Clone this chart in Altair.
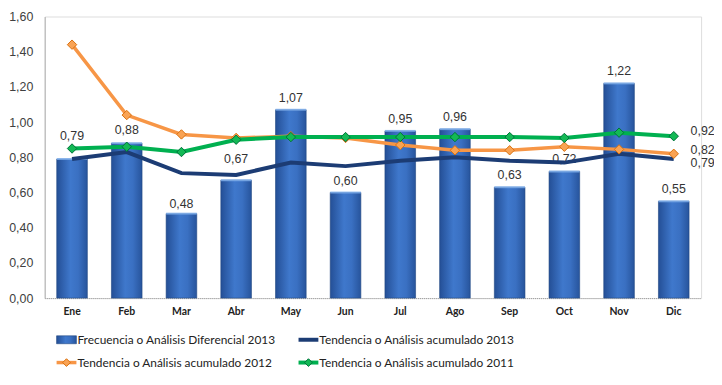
import altair as alt
import pandas as pd

months = ["Ene", "Feb", "Mar", "Abr", "May", "Jun", "Jul", "Ago", "Sep", "Oct", "Nov", "Dic"]
freq_2013 = [0.79, 0.88, 0.48, 0.67, 1.07, 0.60, 0.95, 0.96, 0.63, 0.72, 1.22, 0.55]
tend_2013 = [0.79, 0.83, 0.71, 0.70, 0.77, 0.75, 0.78, 0.80, 0.78, 0.77, 0.82, 0.79]
tend_2012 = [1.44, 1.04, 0.93, 0.91, 0.92, 0.91, 0.87, 0.84, 0.84, 0.86, 0.845, 0.82]
tend_2011 = [0.85, 0.86, 0.83, 0.90, 0.915, 0.915, 0.915, 0.915, 0.915, 0.91, 0.94, 0.92]
y_ticks = [0, 0.2, 0.4, 0.6, 0.8, 1.0, 1.2, 1.4, 1.6]

legend_names = [
    "Frecuencia o Análisis Diferencial 2013",
    "Tendencia o Análisis acumulado 2013",
    "Tendencia o Análisis acumulado 2012",
    "Tendencia o Análisis acumulado 2011",
]

W, H = 662, 284
FONT = "Liberation Sans"
NARROW = "Lato, sans-serif"

df = pd.DataFrame({"mes": months, "freq": freq_2013, "t13": tend_2013,
                   "t12": tend_2012, "t11": tend_2011})

yscale = alt.Scale(domain=[0, 1.6], nice=False, zero=True)
xscale = alt.Scale(paddingInner=0.44, paddingOuter=0.22)
xaxis = alt.Axis(title=None, labelAngle=0, ticks=False, labelFont=NARROW,
                 labelFontSize=10.5, labelFontWeight="bold", labelColor="#222222",
                 labelPadding=9, domainColor="#9a9a9a", domainDash=[1, 1],
                 domainWidth=1)
yaxis = alt.Axis(title=None, values=y_ticks,
                 labelExpr="replace(format(datum.value, '.2f'), '.', ',')",
                 labelOverlap=False,
                 grid=False, ticks=False, labelFont=FONT, labelFontSize=12.5,
                 labelColor="#404040", labelPadding=12, domainColor="#b0b0b0",
                 domainWidth=1)


def X():
    return alt.X("mes:N", sort=months, scale=xscale, axis=xaxis)


def Y(field):
    return alt.Y(f"{field}:Q", scale=yscale, axis=yaxis)


bar_grad = alt.Gradient(gradient="linear", x1=0, x2=1, y1=0, y2=0,
                        stops=[alt.GradientStop(color="#244f96", offset=0),
                               alt.GradientStop(color="#3f78cc", offset=0.45),
                               alt.GradientStop(color="#3a70c2", offset=0.7),
                               alt.GradientStop(color="#27549c", offset=1)])

base = alt.Chart(df)

bars = base.mark_bar(color=bar_grad, stroke="#1e4680", strokeWidth=0.6).encode(
    x=X(), y=Y("freq"))

bar_tops = base.mark_rect(color="#7fb0ee", opacity=0.8, height=2).encode(
    x=X(), y=Y("freq"))

bar_labels = base.mark_text(font=FONT, fontSize=12.5, color="#333333", dy=-12,
                            baseline="middle").encode(
    x=X(), y=Y("lbl_y"),
    text=alt.Text("lbl:N")).transform_calculate(
    lbl="replace(format(datum.freq, '.2f'), '.', ',')",
    lbl_y="datum.freq + (datum.mes == 'Ene' ? 0.065 : datum.mes == 'Abr' ? 0.055 : "
          "datum.mes == 'Feb' ? 0.01 : datum.mes == 'Mar' ? -0.015 : 0)")

line13 = base.mark_line(color="#1c3c74", strokeWidth=4).encode(x=X(), y=Y("t13"))

line12 = base.mark_line(color="#f79646", strokeWidth=3.5).encode(x=X(), y=Y("t12"))
pts12 = base.mark_point(shape="diamond", filled=True, size=90, color="#f9a354",
                        stroke="#d9700e", strokeWidth=1, opacity=1).encode(
    x=X(), y=Y("t12"))

line11 = base.mark_line(color="#00b050", strokeWidth=4).encode(x=X(), y=Y("t11"))
pts11 = base.mark_point(shape="diamond", filled=True, size=90, color="#13b955",
                        stroke="#00703a", strokeWidth=1, opacity=1).encode(
    x=X(), y=Y("t11"))

last = base.transform_filter(alt.datum.mes == months[-1])


def end_label(field, dy):
    return last.mark_text(font=FONT, fontSize=12.5, color="#333333", align="left",
                          dx=17, dy=dy, baseline="middle").encode(
        x=X(), y=Y(field),
        text=alt.Text("lbl:N")).transform_calculate(
        lbl=f"replace(format(datum.{field}, '.2f'), '.', ',')")


end11 = end_label("t11", -5)
end12 = end_label("t12", -4)
end13 = end_label("t13", 4)

# manual legend
one = alt.Chart(pd.DataFrame({"k": [0]}))
r1, r2 = 326, 349
c1, c2 = 12, 256
sw = 20


def leg_text(x, y, t):
    return one.mark_text(font=NARROW, fontSize=12, color="#222222", align="left",
                         baseline="middle").encode(
        x=alt.value(x), y=alt.value(y), text=alt.value(t))


leg_bar = one.mark_rect(color=bar_grad, stroke="#1e4680", strokeWidth=0.6).encode(
    x=alt.value(c1), x2=alt.value(c1 + sw), y=alt.value(r1 - 4), y2=alt.value(r1 + 4))
leg_l13 = one.mark_rule(color="#1c3c74", strokeWidth=4).encode(
    x=alt.value(c2), x2=alt.value(c2 + sw), y=alt.value(r1))
leg_l12 = one.mark_rule(color="#f79646", strokeWidth=3.5).encode(
    x=alt.value(c1), x2=alt.value(c1 + sw), y=alt.value(r2))
leg_p12 = one.mark_point(shape="diamond", filled=True, size=60, color="#f9a354",
                         stroke="#d9700e", strokeWidth=1, opacity=1).encode(
    x=alt.value(c1 + sw / 2), y=alt.value(r2))
leg_l11 = one.mark_rule(color="#00b050", strokeWidth=4).encode(
    x=alt.value(c2), x2=alt.value(c2 + sw), y=alt.value(r2))
leg_p11 = one.mark_point(shape="diamond", filled=True, size=60, color="#13b955",
                         stroke="#00703a", strokeWidth=1, opacity=1).encode(
    x=alt.value(c2 + sw / 2), y=alt.value(r2))

legend = [leg_bar, leg_text(c1 + sw + 1, r1, legend_names[0]),
          leg_l13, leg_text(c2 + sw + 1, r1, legend_names[1]),
          leg_l12, leg_p12, leg_text(c1 + sw + 1, r2, legend_names[2]),
          leg_l11, leg_p11, leg_text(c2 + sw + 1, r2, legend_names[3])]

chart = alt.layer(
    bars, bar_tops, bar_labels, line13, line12, pts12, line11, pts11,
    end11, end12, end13, *legend
).properties(
    width=W, height=H,
    autosize=alt.AutoSizeParams(type="none"),
    padding={"left": 37, "top": 7, "right": 13, "bottom": 80},
).configure_view(stroke=None).configure_axisY(labelOverlap=False).configure(
    background="white")

chart.save("out.html", embed_options={"renderer": "svg", "actions": False})
